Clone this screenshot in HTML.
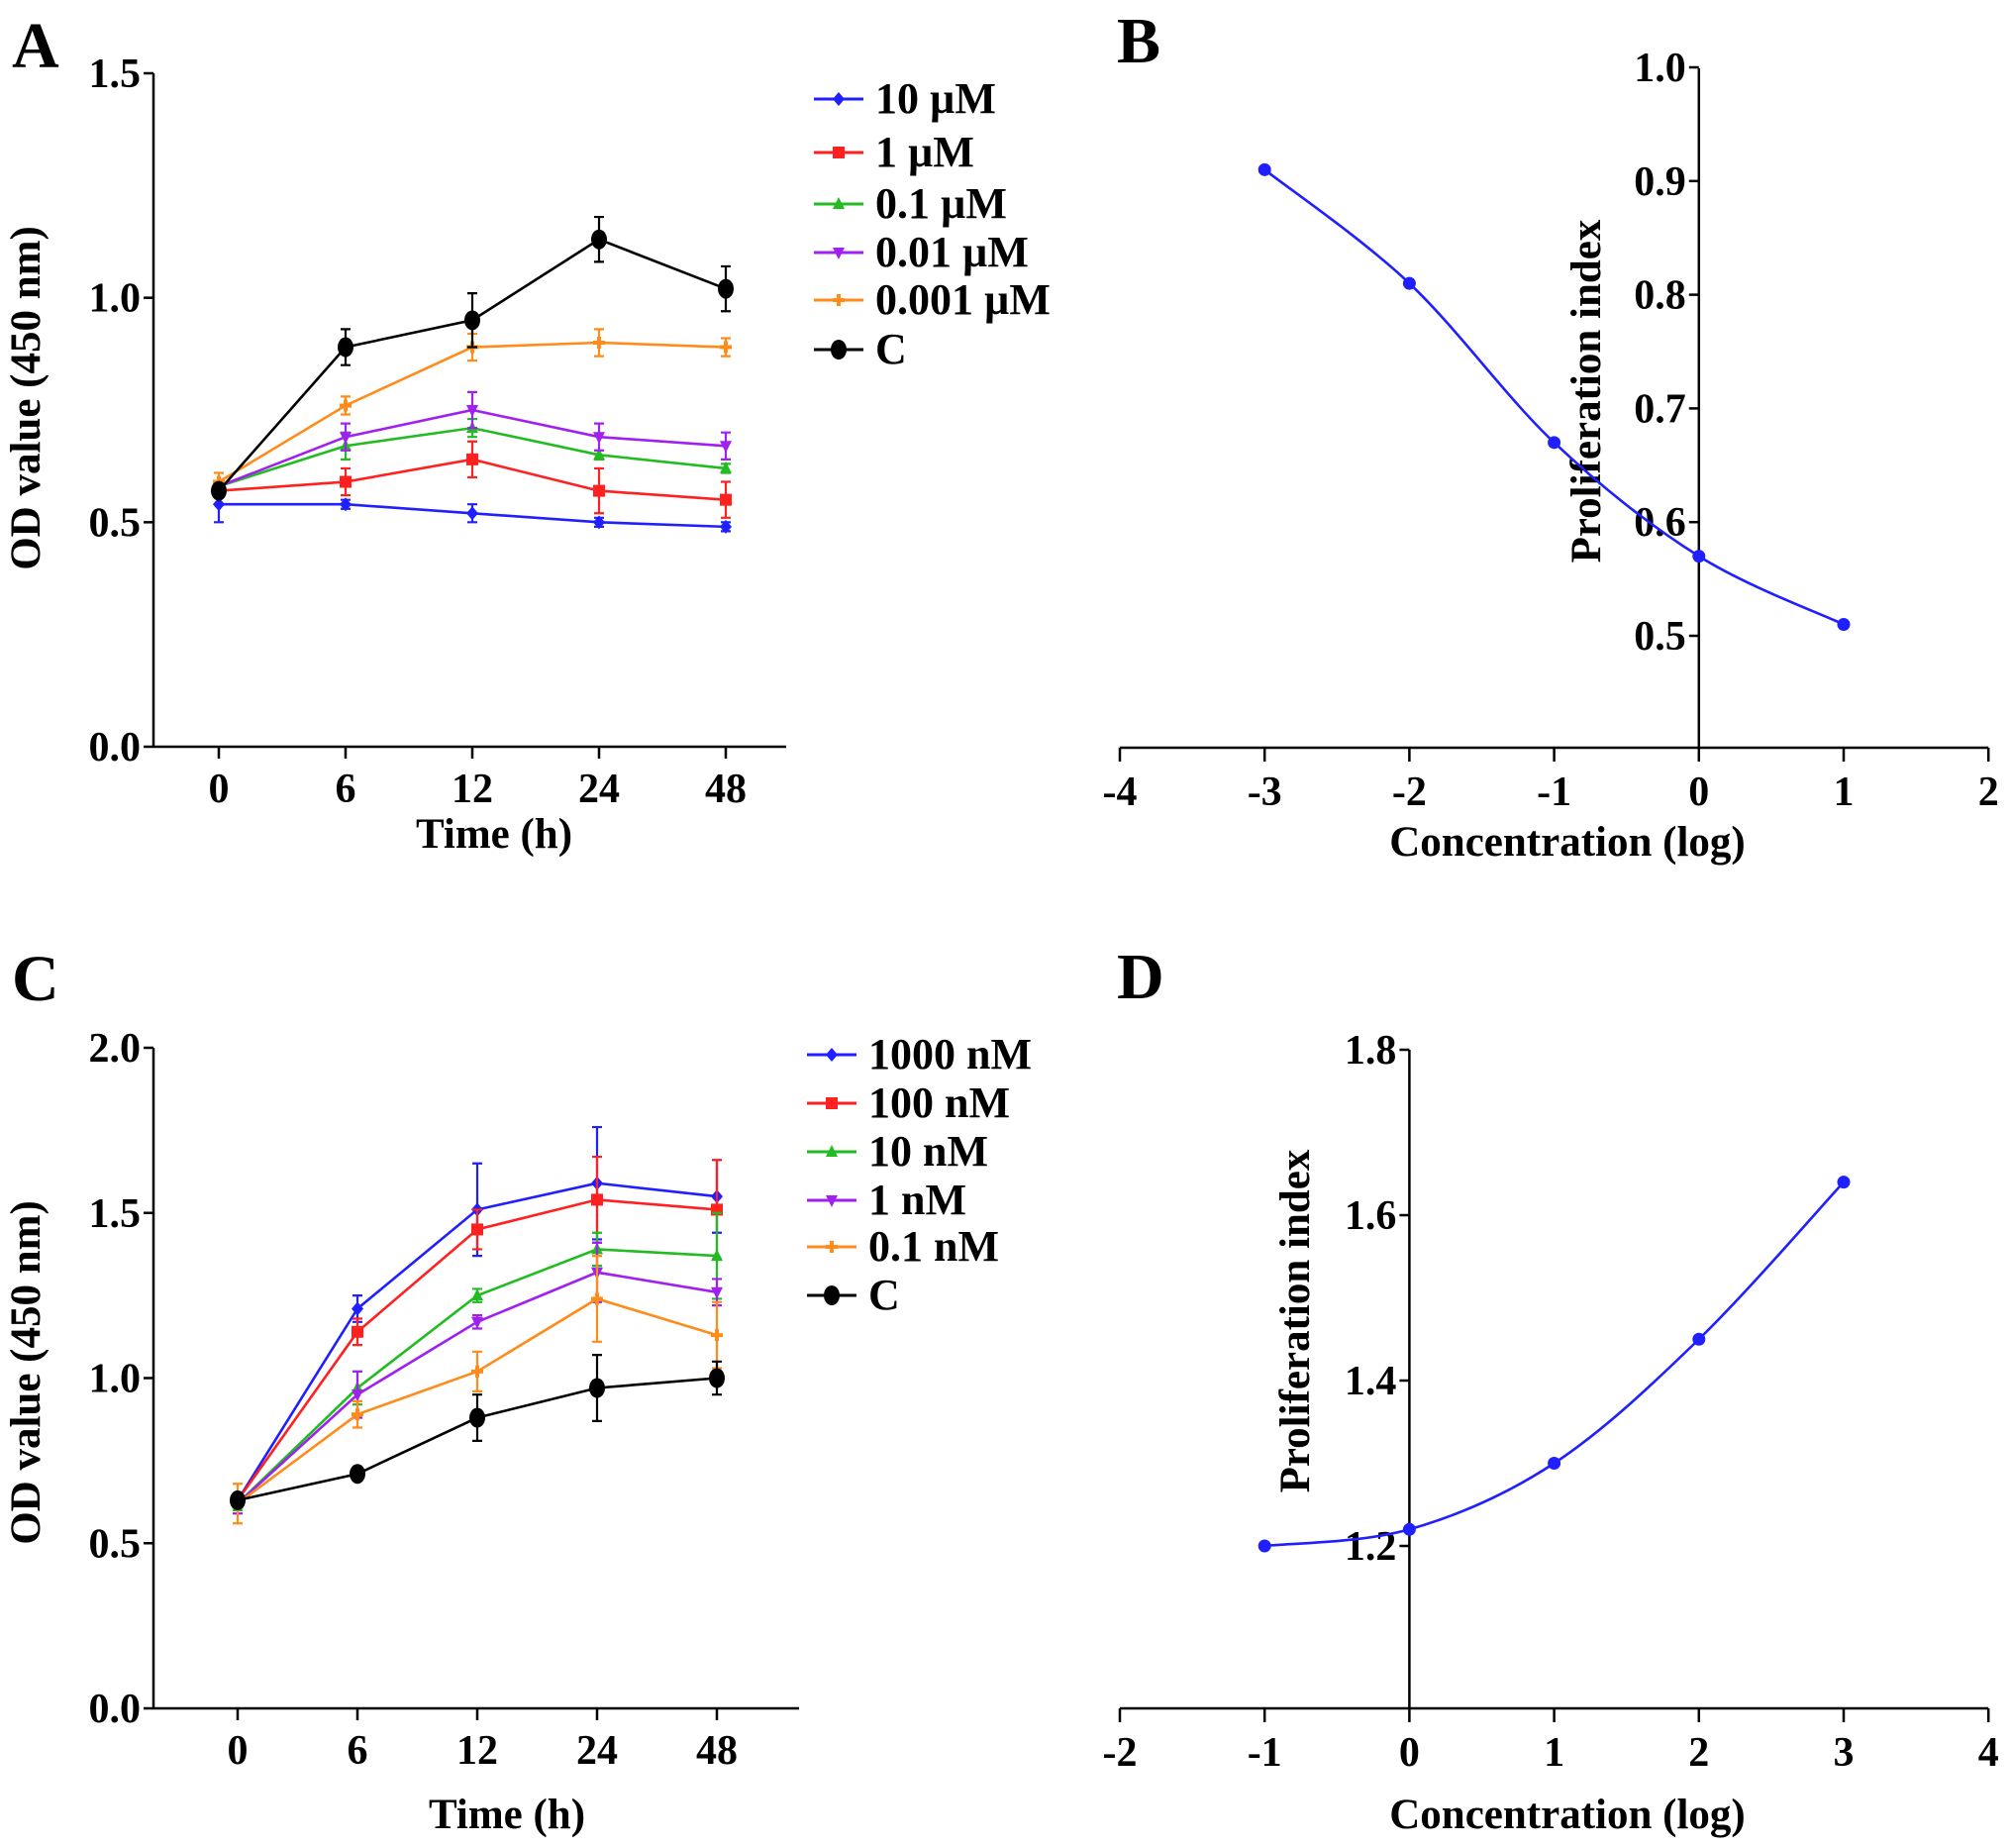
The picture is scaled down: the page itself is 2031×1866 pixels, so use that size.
<!DOCTYPE html>
<html><head><meta charset="utf-8"><style>
html,body{margin:0;padding:0;background:#fff;}
svg{display:block;}
text{font-family:"Liberation Serif",serif;font-weight:bold;fill:#000;}
</style></head>
<body>
<svg id="fig" width="2031" height="1866" viewBox="0 0 2031 1866" xmlns="http://www.w3.org/2000/svg"></svg>
<script>
// ---- Panel A data ----
const timeLabelsA = ["0","6","12","24","48"];
const seriesNamesA = ["10 µM","1 µM","0.1 µM","0.01 µM","0.001 µM","C"];
const a10uM = [0.54,0.54,0.52,0.50,0.49];
const a10uMErr = [0.04,0.01,0.02,0.01,0.01];
const a1uM = [0.57,0.59,0.64,0.57,0.55];
const a1uMErr = [0.01,0.03,0.04,0.05,0.04];
const a01uM = [0.58,0.67,0.71,0.65,0.62];
const a01uMErr = [0.01,0.03,0.02,0.01,0.01];
const a001uM = [0.58,0.69,0.75,0.69,0.67];
const a001uMErr = [0.01,0.03,0.04,0.03,0.03];
const a0001uM = [0.59,0.76,0.89,0.90,0.89];
const a0001uMErr = [0.02,0.02,0.03,0.03,0.02];
const aCtrl = [0.57,0.89,0.95,1.13,1.02];
const aCtrlErr = [0.01,0.04,0.06,0.05,0.05];
const yTicksA = [0.0,0.5,1.0,1.5];
// ---- Panel B data ----
const concB = [-3,-2,-1,0,1];
const indexB = [0.91,0.81,0.67,0.57,0.51];
const xTicksB = [-4,-3,-2,-1,0,1,2];
const yTicksB = [0.5,0.6,0.7,0.8,0.9,1.0];
// ---- Panel C data ----
const timeLabelsC = ["0","6","12","24","48"];
const seriesNamesC = ["1000 nM","100 nM","10 nM","1 nM","0.1 nM","C"];
const c1000 = [0.63,1.21,1.51,1.59,1.55];
const c1000Err = [0.02,0.04,0.14,0.17,0.11];
const c100 = [0.63,1.14,1.45,1.54,1.51];
const c100Err = [0.02,0.04,0.06,0.13,0.15];
const c10 = [0.62,0.97,1.25,1.39,1.37];
const c10Err = [0.02,0.05,0.02,0.05,0.13];
const c1 = [0.62,0.95,1.17,1.32,1.26];
const c1Err = [0.03,0.07,0.02,0.09,0.04];
const c01 = [0.62,0.89,1.02,1.24,1.13];
const c01Err = [0.06,0.04,0.06,0.13,0.10];
const cCtrl = [0.63,0.71,0.88,0.97,1.00];
const cCtrlErr = [0.02,0.02,0.07,0.10,0.05];
const yTicksC = [0.0,0.5,1.0,1.5,2.0];
// ---- Panel D data ----
const concD = [-1,0,1,2,3];
const indexD = [1.20,1.22,1.30,1.45,1.64];
const xTicksD = [-2,-1,0,1,2,3,4];
const yTicksD = [1.2,1.4,1.6,1.8];

const NS="http://www.w3.org/2000/svg";
const svg=document.getElementById('fig');
function el(tag,attrs,parent,txt){const e=document.createElementNS(NS,tag);for(const k in attrs)e.setAttribute(k,attrs[k]);if(txt!==undefined)e.textContent=txt;(parent||svg).appendChild(e);return e;}
const colors=["#1f1fff","#ff2020","#22bb22","#a020f0","#ff8c1a","#000000"];
const shapes=["diamond","square","tri","itri","plus","circle"];
const TICK=42, TITLE=43, LEG=44;

function marker(g,shape,x,y,c,name){
  let m;
  if(shape==="diamond") m=el('path',{d:`M${x},${y-7}L${x+6},${y}L${x},${y+7}L${x-6},${y}Z`,fill:c},g);
  else if(shape==="square") m=el('rect',{x:x-6,y:y-6,width:12,height:12,fill:c},g);
  else if(shape==="tri") m=el('path',{d:`M${x},${y-7}L${x+6},${y+5}L${x-6},${y+5}Z`,fill:c},g);
  else if(shape==="itri") m=el('path',{d:`M${x},${y+7}L${x+6},${y-5}L${x-6},${y-5}Z`,fill:c},g);
  else if(shape==="plus") m=el('path',{d:`M${x-6},${y}L${x+6},${y}M${x},${y-6}L${x},${y+6}`,stroke:c,'stroke-width':4},g);
  else m=el('ellipse',{cx:x,cy:y,rx:8,ry:10,fill:c},g);
  
  
}

function yAxis(g,x0,yScale,ticks,yTop,yBot,dec){
  const ax=el('line',{x1:x0,y1:yTop,x2:x0,y2:yBot,stroke:'#000','stroke-width':2.5},g);
  
  
  ticks.forEach(t=>{
    const y=yScale(t);
    el('line',{x1:x0-10,y1:y,x2:x0,y2:y,stroke:'#000','stroke-width':2.5},g);
    const tx=el('text',{x:x0-13,y:y+14,'text-anchor':'end','font-size':TICK},g,t.toFixed(dec));
    
    
  });
}
function xAxisNum(g,yb,xScale,ticks,x1,x2){
  const ax=el('line',{x1:x1,y1:yb,x2:x2,y2:yb,stroke:'#000','stroke-width':2.5},g);
  
  
  ticks.forEach(t=>{
    const x=xScale(t);
    el('line',{x1:x,y1:yb,x2:x,y2:yb+14,stroke:'#000','stroke-width':2.5},g);
    const tx=el('text',{x:x,y:yb+58,'text-anchor':'middle','font-size':TICK},g,String(t));
    
    
  });
}
function title(g,txt,x,y,rot,name){
  const t=el('text',{x:x,y:y,'text-anchor':'middle','font-size':TITLE,transform:rot?`rotate(-90 ${x} ${y})`:''},g,txt);
  
  
}
function letter(txt,x,y){
  const t=el('text',{x:x,y:y,'font-size':66},svg,txt);
  
  
}

function linePanel(cfg){
  const g=el('g',{});
  
  
  const yS=v=>cfg.yBot-(v-cfg.yMin)/(cfg.yMax-cfg.yMin)*(cfg.yBot-cfg.yTop);
  const xS=i=>cfg.x0+i*cfg.dx;
  yAxis(g,cfg.axX,yS,cfg.yTicks,cfg.yTop,cfg.yBot,1);
  const ax=el('line',{x1:cfg.axX,y1:cfg.yBot,x2:cfg.axEnd,y2:cfg.yBot,stroke:'#000','stroke-width':2.5},g);
  
  
  cfg.labels.forEach((l,i)=>{
    el('line',{x1:xS(i),y1:cfg.yBot,x2:xS(i),y2:cfg.yBot+12,stroke:'#000','stroke-width':2.5},g);
    const t=el('text',{x:xS(i),y:cfg.yBot+56,'text-anchor':'middle','font-size':TICK},g,l);
    
    
  });
  title(g,"Time (h)",cfg.xTitleX,cfg.xTitleY,false,'x-axis-title');
  title(g,"OD value (450 nm)",40,cfg.yTitleY,true,'y-axis-title');
  cfg.series.forEach((s,k)=>{
    const sg=el('g',{},g);
    
    
    const c=colors[k];
    el('polyline',{points:s.map((v,i)=>xS(i)+','+yS(v)).join(' '),fill:'none',stroke:c,'stroke-width':2.6},sg);
    s.forEach((v,i)=>{
      const e=cfg.errs[k][i];
      el('path',{d:`M${xS(i)},${yS(v-e)}L${xS(i)},${yS(v+e)}M${xS(i)-5},${yS(v+e)}L${xS(i)+5},${yS(v+e)}M${xS(i)-5},${yS(v-e)}L${xS(i)+5},${yS(v-e)}`,stroke:c,'stroke-width':2.2,fill:'none'},sg);
      marker(sg,shapes[k],xS(i),yS(v),c,'data-point');
    });
    const ly=cfg.legY[k];
    const lg=el('g',{},g);
    
    
    el('line',{x1:cfg.legX,y1:ly,x2:cfg.legX+50,y2:ly,stroke:c,'stroke-width':3},lg);
    marker(lg,shapes[k],cfg.legX+25,ly,c,'legend-marker');
    el('text',{x:cfg.legX+62,y:ly+14,'font-size':LEG},lg,cfg.names[k]);
  });
}

function curvePanel(cfg){
  const g=el('g',{});
  
  
  const xS=v=>cfg.xLeft+(v-cfg.xMin)*cfg.perX;
  const yS=v=>cfg.yRef-(v-cfg.yRefVal)*cfg.perY;
  yAxis(g,xS(0),yS,cfg.yTicks,cfg.yTop,cfg.yBot,1);
  xAxisNum(g,cfg.yBot,xS,cfg.xTicks,cfg.xLeft,xS(cfg.xTicks[cfg.xTicks.length-1]));
  title(g,"Concentration (log)",1583,cfg.xTitleY,false,'x-axis-title');
  title(g,"Proliferation index",cfg.yTitleX,cfg.yTitleY,true,'y-axis-title');
  const pts=cfg.xs.map((x,i)=>[xS(x),yS(cfg.ys[i])]);
  let d=`M${pts[0][0]},${pts[0][1]}`;
  for(let i=0;i<pts.length-1;i++){
    const p0=pts[Math.max(0,i-1)],p1=pts[i],p2=pts[i+1],p3=pts[Math.min(pts.length-1,i+2)];
    const c1=[p1[0]+(p2[0]-p0[0])/6,p1[1]+(p2[1]-p0[1])/6];
    const c2=[p2[0]-(p3[0]-p1[0])/6,p2[1]-(p3[1]-p1[1])/6];
    d+=`C${c1[0]},${c1[1]} ${c2[0]},${c2[1]} ${p2[0]},${p2[1]}`;
  }
  const cv=el('path',{d:d,fill:'none',stroke:'#1f1fff','stroke-width':2.6},g);
  
  
  pts.forEach(p=>{
    const c=el('circle',{cx:p[0],cy:p[1],r:6.5,fill:'#1f1fff'},g);
    
    
  });
}

linePanel({name:'panel-a-chart',axX:155,axEnd:794,yTop:74,yBot:754,yMin:0,yMax:1.5,x0:221,dx:128,
  labels:timeLabelsA,yTicks:yTicksA,xTitleX:499,xTitleY:856,yTitleY:402,
  series:[a10uM,a1uM,a01uM,a001uM,a0001uM,aCtrl],errs:[a10uMErr,a1uMErr,a01uMErr,a001uMErr,a0001uMErr,aCtrlErr],
  names:seriesNamesA,legX:822,legY:[100,154,206,255,303,353]});
linePanel({name:'panel-c-chart',axX:155,axEnd:807,yTop:1058,yBot:1725,yMin:0,yMax:2.0,x0:240,dx:121,
  labels:timeLabelsC,yTicks:yTicksC,xTitleX:512,xTitleY:1846,yTitleY:1386,
  series:[c1000,c100,c10,c1,c01,cCtrl],errs:[c1000Err,c100Err,c10Err,c1Err,c01Err,cCtrlErr],
  names:seriesNamesC,legX:815,legY:[1065,1114,1163,1212,1259,1308]});
curvePanel({name:'panel-b-chart',xLeft:1131,xMin:-4,perX:146.2,yRef:642,yRefVal:0.5,perY:1148,yTop:69,yBot:755,
  yTicks:yTicksB,xTicks:xTicksB,xs:concB,ys:indexB,xTitleY:864,yTitleX:1616,yTitleY:395});
curvePanel({name:'panel-d-chart',xLeft:1131,xMin:-2,perX:146.2,yRef:1561,yRefVal:1.2,perY:835,yTop:1060,yBot:1725,
  yTicks:yTicksD,xTicks:xTicksD,xs:concD,ys:indexD,xTitleY:1846,yTitleX:1322,yTitleY:1334});

letter("A",12,68);letter("B",1128,63);letter("C",12,1010);letter("D",1128,1008);
</script>
</body></html>
